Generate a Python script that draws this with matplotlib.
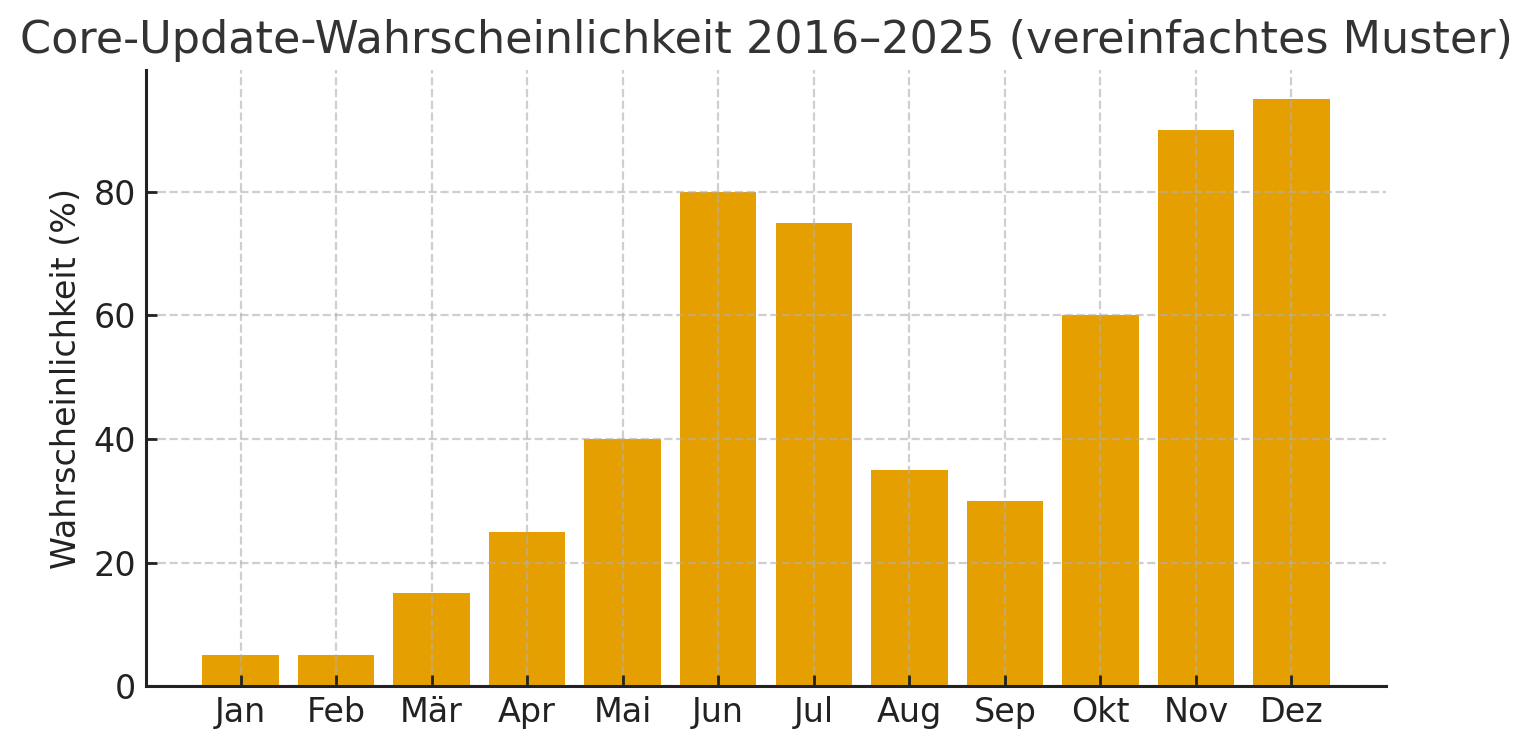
import matplotlib.pyplot as plt

months = ['Jan', 'Feb', 'Mär', 'Apr', 'Mai', 'Jun', 'Jul', 'Aug', 'Sep', 'Okt', 'Nov', 'Dez']
probability = [5, 5, 15, 25, 40, 80, 75, 35, 30, 60, 90, 95]

fig = plt.figure(figsize=(7.66, 3.745), dpi=200)
ax = fig.add_axes([0.0953, 0.0841, 0.8094, 0.8224])

ax.bar(months, probability, color='#E69F00', width=0.8, zorder=1)

ax.set_title('Core-Update-Wahrscheinlichkeit 2016–2025 (vereinfachtes Muster)',
             fontsize=16, color='#333333')
ax.set_ylabel('Wahrscheinlichkeit (%)', fontsize=12, color='#222222')
ax.tick_params(labelsize=12, colors='#222222', direction='in', length=4, width=1)
ax.set_axisbelow(False)
ax.grid(True, linestyle='--', color='#b0b0b0', alpha=0.6, linewidth=0.8, zorder=2)
ax.spines['top'].set_visible(False)
ax.spines['right'].set_visible(False)
for side in ['left', 'bottom']:
    ax.spines[side].set_linewidth(1.1)
    ax.spines[side].set_color('#222222')
    ax.spines[side].set_zorder(4)

fig.savefig('out.png')
